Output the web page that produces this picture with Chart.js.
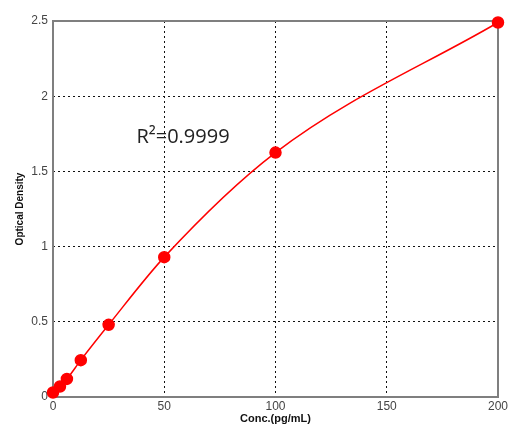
<!DOCTYPE html>
<html>
<head>
<meta charset="utf-8">
<script src="https://cdn.jsdelivr.net/npm/chart.js@4"></script>
<style>
  html, body { margin: 0; padding: 0; background: #fff; }
  #wrap { width: 517px; height: 426px; }
</style>
</head>
<body>
<div id="wrap"><canvas id="chart" width="517" height="426"></canvas></div>
<script>
// standard curve data
const concs   = [0, 3.125, 6.25, 12.5, 25, 50, 100, 200];
const density = [0.03, 0.07, 0.12, 0.245, 0.48, 0.93, 1.625, 2.49];
const xTicks  = [0, 50, 100, 150, 200];
const yTicks  = [0, 0.5, 1, 1.5, 2, 2.5];
const r2Label = "R\u00b2=0.9999";

// frame round the plot + the R² label
const framePlugin = {
    id: "frame",
    beforeDatasetsDraw(chart) {
        const { ctx, chartArea: a, scales } = chart;
        ctx.save();
        ctx.strokeStyle = "#7f7f7f";
        ctx.lineWidth = 2;
        ctx.strokeRect(a.left, a.top, a.right - a.left, a.bottom - a.top);
        ctx.fillStyle = "#222";
        ctx.font = "20px 'Open Sans', 'DejaVu Sans', sans-serif";
        ctx.textBaseline = "middle";
        ctx.fillText(r2Label, scales.x.getPixelForValue(37.5), scales.y.getPixelForValue(1.73));
        ctx.restore();
    }
};

const gridColor = (max) => (c) => (c.tick.value === 0 || c.tick.value === max) ? "rgba(0,0,0,0)" : "#111";
const font = { size: 12, family: "'Liberation Sans', Arial, sans-serif" };
const titleFont = (size) => ({ size: size, weight: "bold", family: "'Liberation Sans', Arial, sans-serif" });

new Chart(document.getElementById("chart"), {
    type: "scatter",
    data: {
        datasets: [{
            data: concs.map((c, i) => ({ x: c, y: density[i] })),
            showLine: true,
            borderColor: "#ff0000",
            backgroundColor: "#ff0000",
            borderWidth: 1.5,
            pointRadius: 5.5,
            pointHoverRadius: 5.5,
            cubicInterpolationMode: "monotone",
            clip: false
        }]
    },
    options: {
        responsive: false,
        animation: false,
        layout: { padding: { top: 21, right: 19, left: 14, bottom: 0 } },
        plugins: { legend: { display: false }, tooltip: { enabled: false } },
        scales: {
            x: {
                type: "linear", min: 0, max: 200,
                afterBuildTicks: (s) => { s.ticks = xTicks.map(v => ({ value: v })); },
                afterFit: (s) => { s.height = 29; },
                grid: { color: gridColor(200), lineWidth: 1, drawTicks: false, tickLength: 0, borderDash: [2, 3] },
                border: { display: false, dash: [2, 3] },
                ticks: { color: "#444", padding: 2, font: font },
                title: { display: true, text: "Conc.(pg/mL)", color: "#111", padding: 0, font: titleFont(11) }
            },
            y: {
                type: "linear", min: 0, max: 2.5,
                afterBuildTicks: (s) => { s.ticks = yTicks.map(v => ({ value: v })); },
                afterFit: (s) => { s.width = 39; },
                grid: { color: gridColor(2.5), lineWidth: 1, drawTicks: false, tickLength: 0, borderDash: [2, 3] },
                border: { display: false, dash: [2, 3] },
                ticks: { color: "#444", padding: 5, font: font, callback: (v) => String(v) },
                title: { display: true, text: "Optical Density", color: "#111", padding: 0, font: titleFont(10) }
            }
        }
    },
    plugins: [framePlugin]
});
</script>
</body>
</html>
